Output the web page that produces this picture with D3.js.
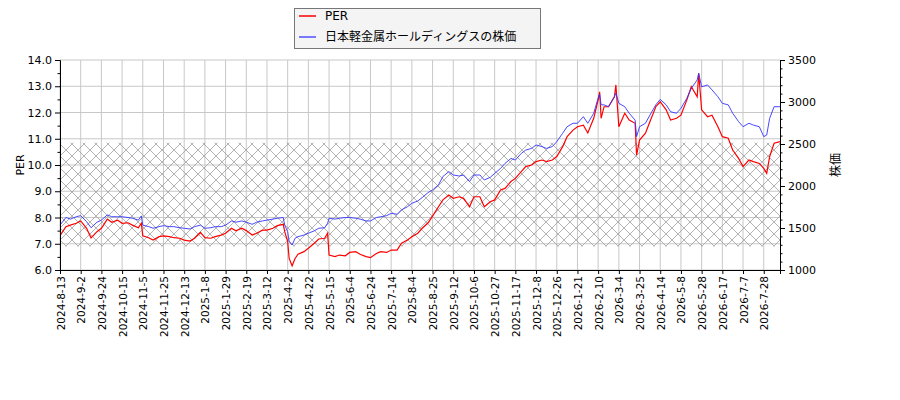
<!DOCTYPE html>
<html>
<head>
<meta charset="utf-8">
<script src="https://cdn.jsdelivr.net/npm/d3@7"></script>
<style>
  body { margin: 0; background: #fff; }
  svg text { font-family: "DejaVu Sans", "Noto Sans CJK JP", sans-serif; }
</style>
</head>
<body>
<svg id="chart" width="900" height="400"></svg>
<script>
// trading-day index of each sample (14 trading days between date ticks)
var days = [0,4,7,11,14,18,21,25,28,32,35,39,42,46,49,53,55,56,60,63,67,70,74,77,81,84,88,91,95,98,
  102,105,109,112,116,119,123,126,130,133,137,140,144,147,151,152,154,155,157,159,161,165,168,172,175,179,181,182,
  186,189,193,196,200,203,207,210,214,217,221,224,228,231,235,238,242,245,249,252,256,259,263,266,270,273,277,
  280,284,287,291,294,298,301,305,308,312,315,319,322,326,329,333,336,340,343,347,350,354,357,361,364,365,366,
  368,371,375,376,378,382,385,389,390,392,396,399,403,406,410,413,417,420,424,427,431,432,434,438,441,445,448,
  452,455,459,462,466,469,473,476,478,480,483,487];

var per = [7.31,7.65,7.71,7.78,7.87,7.59,7.22,7.46,7.59,7.94,7.82,7.90,7.78,7.80,7.71,7.61,7.78,7.30,7.23,7.14,
  7.27,7.30,7.27,7.23,7.21,7.14,7.10,7.21,7.43,7.23,7.21,7.27,7.33,7.40,7.59,7.49,7.59,7.50,7.33,7.40,
  7.52,7.52,7.59,7.69,7.74,7.46,7.08,6.44,6.16,6.44,6.60,6.70,6.83,7.02,7.18,7.21,7.40,6.57,
  6.51,6.57,6.54,6.67,6.70,6.60,6.51,6.47,6.63,6.70,6.67,6.76,6.76,7.02,7.14,7.27,7.40,7.59,7.80,8.05,8.41,
  8.67,8.86,8.73,8.79,8.73,8.41,8.79,8.79,8.41,8.60,8.67,9.05,9.11,9.37,9.49,9.75,9.94,10.00,10.13,10.19,
  10.13,10.19,10.32,10.70,11.08,11.33,11.46,11.52,11.22,11.78,12.48,12.79,11.78,12.22,12.22,12.60,13.05,
  11.46,11.97,11.71,11.59,10.38,10.95,11.21,11.65,12.22,12.41,12.10,11.71,11.78,11.90,12.48,12.98,12.60,
  13.49,12.10,11.84,11.90,11.46,11.08,11.02,10.57,10.25,9.94,10.19,10.13,10.06,9.87,9.68,10.32,10.83,10.89];

var price = [1534,1625,1606,1634,1647,1575,1503,1569,1594,1656,1634,1634,1634,1625,1616,1594,1644,1534,1516,1497,
  1516,1528,1516,1516,1503,1497,1488,1516,1534,1497,1503,1516,1516,1534,1584,1569,1584,1569,1544,1569,
  1584,1594,1606,1616,1625,1534,1456,1338,1297,1378,1397,1416,1438,1466,1497,1503,1556,1616,
  1606,1616,1625,1625,1616,1606,1584,1584,1625,1634,1647,1675,1663,1716,1753,1794,1822,1863,1922,1953,2013,
  2113,2172,2131,2119,2131,2053,2131,2131,2072,2103,2150,2209,2269,2328,2309,2388,2428,2447,2488,2469,
  2447,2469,2528,2628,2706,2747,2747,2825,2747,2866,3047,3094,2966,2966,2944,3063,3106,
  2984,2944,2866,2784,2588,2706,2747,2844,2966,3031,2966,2884,2866,2925,3044,3163,3263,
  3341,3181,3203,3144,3063,2984,2966,2866,2766,2706,2747,2725,2706,2588,2606,2806,2944,2944];

var tickLabels = ["2024-8-13","2024-9-2","2024-9-24","2024-10-15","2024-11-5","2024-11-25","2024-12-13",
  "2025-1-8","2025-1-29","2025-2-19","2025-3-12","2025-4-2","2025-4-22","2025-5-15","2025-6-4","2025-6-24",
  "2025-7-14","2025-8-4","2025-8-25","2025-9-12","2025-10-6","2025-10-27","2025-11-17","2025-12-8",
  "2025-12-26","2026-1-21","2026-2-10","2026-3-4","2026-3-25","2026-4-14","2026-5-8","2026-5-28",
  "2026-6-17","2026-7-7","2026-7-28"];
var tickStep = 14;
var lastDay = 487;

var perBand = [6.9, 10.85];   // hatched PER range

var plotLeft = 60, plotRight = 780, plotTop = 60, plotBottom = 270;

var svg = d3.select('#chart');

var x = d3.scaleLinear().domain([0, lastDay]).range([plotLeft, plotRight]);
var yPer = d3.scaleLinear().domain([6, 14]).range([plotBottom, plotTop]);
var yPrice = d3.scaleLinear().domain([1000, 3500]).range([plotBottom, plotTop]);

var defs = svg.append('defs');
var hatch = defs.append('pattern')
  .attr('id', 'hatch')
  .attr('patternUnits', 'userSpaceOnUse')
  .attr('width', 12).attr('height', 12);
hatch.append('path')
  .attr('d', 'M0,0L12,12M12,0L0,12')
  .attr('stroke', '#a0a0a0')
  .attr('stroke-width', 0.8);

defs.append('clipPath').attr('id', 'plotclip')
  .append('rect')
  .attr('x', plotLeft).attr('y', plotTop)
  .attr('width', plotRight - plotLeft).attr('height', plotBottom - plotTop);

// grid
var tickDays = tickLabels.map(function (d, i) { return i * tickStep; });
svg.append('g').selectAll('line')
  .data(tickDays)
  .enter().append('line')
  .attr('x1', function (d) { return x(d); })
  .attr('x2', function (d) { return x(d); })
  .attr('y1', plotTop).attr('y2', plotBottom)
  .attr('stroke', '#c8c8c8').attr('stroke-width', 1);

svg.append('g').selectAll('line')
  .data(d3.range(6, 14.01, 1))
  .enter().append('line')
  .attr('x1', plotLeft).attr('x2', plotRight)
  .attr('y1', function (d) { return yPer(d); })
  .attr('y2', function (d) { return yPer(d); })
  .attr('stroke', '#c8c8c8').attr('stroke-width', 1);

// hatched band
svg.append('rect')
  .attr('x', plotLeft)
  .attr('y', yPer(perBand[1]))
  .attr('width', plotRight - plotLeft)
  .attr('height', yPer(perBand[0]) - yPer(perBand[1]))
  .attr('fill', 'url(#hatch)');

// lines
var perLine = d3.line()
  .x(function (d, i) { return x(days[i]); })
  .y(function (d) { return yPer(d); });
var priceLine = d3.line()
  .x(function (d, i) { return x(days[i]); })
  .y(function (d) { return yPrice(d); });

var plot = svg.append('g').attr('clip-path', 'url(#plotclip)');
plot.append('path')
  .attr('d', perLine(per))
  .attr('fill', 'none')
  .attr('stroke', '#ff0000')
  .attr('stroke-width', 1.2);
plot.append('path')
  .attr('d', priceLine(price))
  .attr('fill', 'none')
  .attr('stroke', '#3333ff')
  .attr('stroke-width', 0.9);

// axes
var xAxis = svg.append('g')
  .attr('transform', 'translate(0,' + plotBottom + ')')
  .call(d3.axisBottom(x).tickValues(tickDays).tickSize(4)
    .tickFormat(function (d, i) { return tickLabels[i]; }));
xAxis.select('.domain').attr('stroke', '#000');
xAxis.selectAll('text')
  .attr('font-size', '10.5px')
  .attr('fill', '#000')
  .attr('text-anchor', 'end')
  .attr('dy', null)
  .attr('y', 0)
  .attr('transform', 'translate(0,6) rotate(-90)')
  .attr('dominant-baseline', 'central');

var yLeft = svg.append('g')
  .attr('transform', 'translate(' + plotLeft + ',0)')
  .call(d3.axisLeft(yPer).tickValues(d3.range(6, 14.01, 1)).tickSize(5)
    .tickFormat(d3.format('.1f')));
yLeft.selectAll('text').attr('font-size', '11px').attr('fill', '#000');
svg.append('g')
  .attr('transform', 'translate(' + plotLeft + ',0)')
  .call(d3.axisLeft(yPer).tickValues(d3.range(6.5, 14, 1)).tickSize(2.5).tickFormat(''))
  .select('.domain').remove();

var yRight = svg.append('g')
  .attr('transform', 'translate(' + plotRight + ',0)')
  .call(d3.axisRight(yPrice).tickValues(d3.range(1000, 3501, 500)).tickSize(5)
    .tickFormat(d3.format('d')));
yRight.selectAll('text').attr('font-size', '11px').attr('fill', '#000');
svg.append('g')
  .attr('transform', 'translate(' + plotRight + ',0)')
  .call(d3.axisRight(yPrice).tickValues(d3.range(1100, 3500, 100).filter(function (d) { return d % 500 !== 0; }))
    .tickSize(2.5).tickFormat(''))
  .select('.domain').remove();

// axis titles
svg.append('text')
  .attr('transform', 'translate(24,165) rotate(-90)')
  .attr('text-anchor', 'middle')
  .attr('font-size', '11px')
  .text('PER');
svg.append('text')
  .attr('transform', 'translate(840,165) rotate(-90)')
  .attr('text-anchor', 'middle')
  .attr('font-size', '12px')
  .text('株価');

// legend
var legend = svg.append('g');
legend.append('rect')
  .attr('x', 294.5).attr('y', 8.5)
  .attr('width', 246).attr('height', 40)
  .attr('fill', '#f4f4f4')
  .attr('stroke', '#777').attr('stroke-width', 1);
var legendItems = [
  { label: 'PER', color: '#ff0000', width: 1.5 },
  { label: '日本軽金属ホールディングスの株価', color: '#5050ff', width: 1.5 }
];
legend.selectAll('line')
  .data(legendItems)
  .enter().append('line')
  .attr('x1', 299).attr('x2', 316)
  .attr('y1', function (d, i) { return 16 + i * 21; })
  .attr('y2', function (d, i) { return 16 + i * 21; })
  .attr('stroke', function (d) { return d.color; })
  .attr('stroke-width', function (d) { return d.width; });
legend.selectAll('text')
  .data(legendItems)
  .enter().append('text')
  .attr('x', 325)
  .attr('y', function (d, i) { return 16 + i * 21; })
  .attr('dominant-baseline', 'central')
  .attr('font-size', '12px')
  .text(function (d) { return d.label; });
</script>
</body>
</html>
